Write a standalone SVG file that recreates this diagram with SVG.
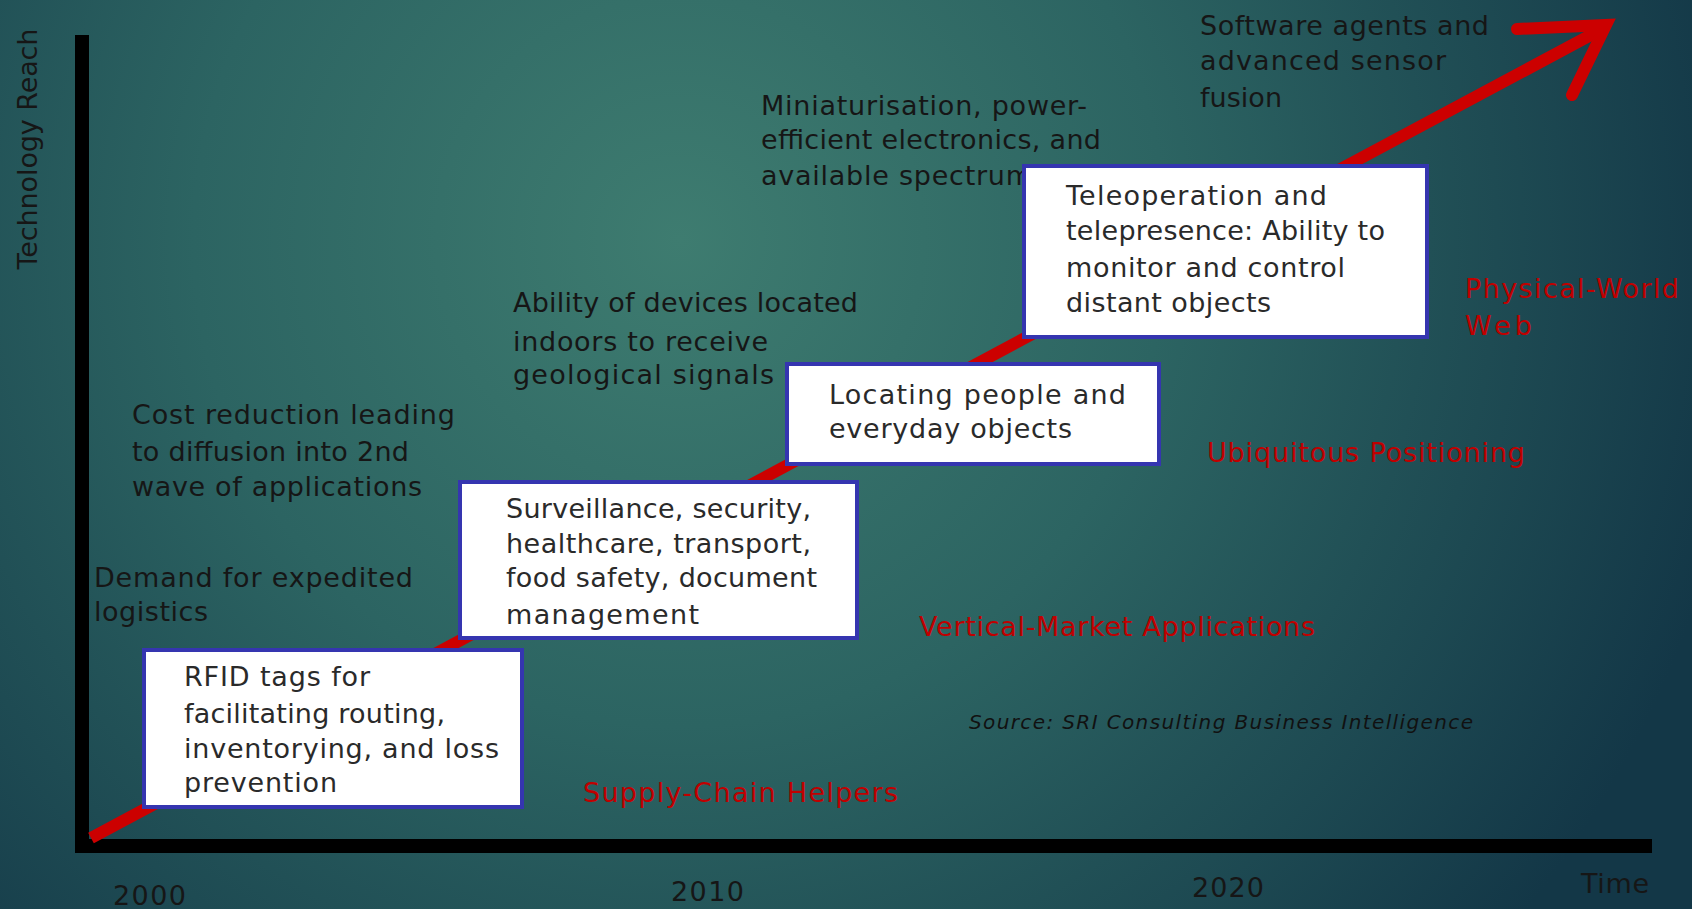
<svg xmlns="http://www.w3.org/2000/svg" width="1692" height="909" viewBox="0 0 1692 909">
  <defs>
    <radialGradient id="bg" gradientUnits="userSpaceOnUse" cx="680" cy="240" r="1080">
      <stop offset="0" stop-color="#3e7c70"/>
      <stop offset="0.45" stop-color="#2c6462"/>
      <stop offset="1" stop-color="#133747"/>
    </radialGradient>
  </defs>
  <style>
    .t { font-family: "DejaVu Sans", "Liberation Sans", sans-serif; font-size: 27px; fill: #161616; }
    .bt { font-family: "DejaVu Sans", "Liberation Sans", sans-serif; font-size: 27px; fill: #2a2a2a; }
    .r { font-family: "DejaVu Sans", "Liberation Sans", sans-serif; font-size: 27px; fill: #c00000; }
    .src { font-family: "DejaVu Sans", "Liberation Sans", sans-serif; font-size: 20px; font-style: italic; fill: #111; }
    .box { fill: #ffffff; stroke: #3535b0; stroke-width: 4; }
    .axis { fill: #000000; }
    .arrow { fill: none; stroke: #cc0000; stroke-width: 12; }
  </style>

  <rect x="0" y="0" width="1692" height="909" fill="url(#bg)"/>

  <g id="axes">
    <rect class="axis" x="75" y="35" width="14" height="818"/>
    <rect class="axis" x="75" y="839" width="1577" height="14"/>
    <text class="t" transform="translate(37,149) rotate(-90)" text-anchor="middle" font-size="25" textLength="241" lengthAdjust="spacing">Technology Reach</text>
    <text class="t" x="113" y="905" textLength="73" lengthAdjust="spacing">2000</text>
    <text class="t" x="671" y="901" textLength="73" lengthAdjust="spacing">2010</text>
    <text class="t" x="1192" y="897" textLength="72" lengthAdjust="spacing">2020</text>
    <text class="t" x="1581" y="893" textLength="68" lengthAdjust="spacing">Time</text>
  </g>

  <g id="connectors">
    <line class="arrow" x1="91" y1="838" x2="1604" y2="28"/>
    <polyline class="arrow" points="1517,29 1606,25 1572,95" stroke-linecap="round"/>
  </g>

  <g id="note-software">
    <text class="t" x="1200" y="35" textLength="289" lengthAdjust="spacing">Software agents and</text>
    <text class="t" x="1200" y="70" textLength="246" lengthAdjust="spacing">advanced sensor</text>
    <text class="t" x="1200" y="107" textLength="82" lengthAdjust="spacing">fusion</text>
  </g>

  <g id="note-miniaturisation">
    <text class="t" x="761" y="115" textLength="326" lengthAdjust="spacing">Miniaturisation, power-</text>
    <text class="t" x="761" y="149" textLength="340" lengthAdjust="spacing">efficient electronics, and</text>
    <text class="t" x="761" y="185" textLength="271" lengthAdjust="spacing">available spectrum</text>
  </g>

  <g id="note-ability">
    <text class="t" x="513" y="312" textLength="345" lengthAdjust="spacing">Ability of devices located</text>
    <text class="t" x="513" y="351" textLength="255" lengthAdjust="spacing">indoors to receive</text>
    <text class="t" x="513" y="384" textLength="261" lengthAdjust="spacing">geological signals</text>
  </g>

  <g id="note-cost">
    <text class="t" x="132" y="424" textLength="323" lengthAdjust="spacing">Cost reduction leading</text>
    <text class="t" x="132" y="461" textLength="277" lengthAdjust="spacing">to diffusion into 2nd</text>
    <text class="t" x="132" y="496" textLength="290" lengthAdjust="spacing">wave of applications</text>
  </g>

  <g id="note-demand">
    <text class="t" x="94" y="587" textLength="319" lengthAdjust="spacing">Demand for expedited</text>
    <text class="t" x="94" y="621" textLength="114" lengthAdjust="spacing">logistics</text>
  </g>

  <g id="box-rfid">
    <rect class="box" x="144" y="650" width="378" height="157"/>
    <text class="bt" x="184" y="686" textLength="186" lengthAdjust="spacing">RFID tags for</text>
    <text class="bt" x="184" y="723" textLength="261" lengthAdjust="spacing">facilitating routing,</text>
    <text class="bt" x="184" y="758" textLength="315" lengthAdjust="spacing">inventorying, and loss</text>
    <text class="bt" x="184" y="792" textLength="153" lengthAdjust="spacing">prevention</text>
  </g>

  <g id="box-surveillance">
    <rect class="box" x="460" y="482" width="397" height="156"/>
    <text class="bt" x="506" y="518" textLength="305" lengthAdjust="spacing">Surveillance, security,</text>
    <text class="bt" x="506" y="553" textLength="305" lengthAdjust="spacing">healthcare, transport,</text>
    <text class="bt" x="506" y="587" textLength="311" lengthAdjust="spacing">food safety, document</text>
    <text class="bt" x="506" y="624" textLength="193" lengthAdjust="spacing">management</text>
  </g>

  <g id="box-locating">
    <rect class="box" x="787" y="364" width="372" height="100"/>
    <text class="bt" x="829" y="404" textLength="297" lengthAdjust="spacing">Locating people and</text>
    <text class="bt" x="829" y="438" textLength="243" lengthAdjust="spacing">everyday objects</text>
  </g>

  <g id="box-teleoperation">
    <rect class="box" x="1024" y="166" width="403" height="171"/>
    <text class="bt" x="1066" y="205" textLength="261" lengthAdjust="spacing">Teleoperation and</text>
    <text class="bt" x="1066" y="240" textLength="319" lengthAdjust="spacing">telepresence: Ability to</text>
    <text class="bt" x="1066" y="277" textLength="279" lengthAdjust="spacing">monitor and control</text>
    <text class="bt" x="1066" y="312" textLength="205" lengthAdjust="spacing">distant objects</text>
  </g>

  <g id="label-physical">
    <text class="r" x="1465" y="298" textLength="214" lengthAdjust="spacing">Physical-World</text>
    <text class="r" x="1465" y="335" textLength="67" lengthAdjust="spacing">Web</text>
  </g>

  <g id="label-ubiquitous">
    <text class="r" x="1207" y="462" textLength="318" lengthAdjust="spacing">Ubiquitous Positioning</text>
  </g>

  <g id="label-vertical">
    <text class="r" x="919" y="636" textLength="396" lengthAdjust="spacing">Vertical-Market Applications</text>
  </g>

  <g id="label-supply">
    <text class="r" x="583" y="802" textLength="315" lengthAdjust="spacing">Supply-Chain Helpers</text>
  </g>

  <g id="source">
    <text class="src" x="969" y="729" textLength="504" lengthAdjust="spacing">Source: SRI Consulting Business Intelligence</text>
  </g>
</svg>
